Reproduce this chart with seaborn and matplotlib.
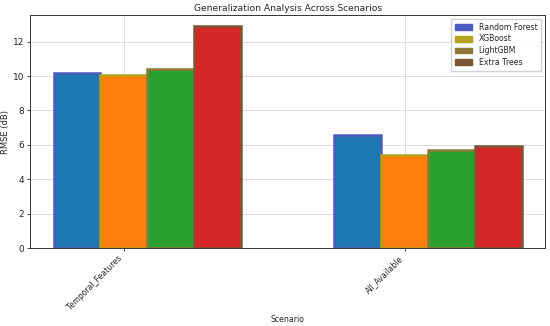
import seaborn as sns
import matplotlib.pyplot as plt
import matplotlib.patches as mpatches
import numpy as np
import pandas as pd

scenarios = ["Temporal_Features", "All_Available"]
models = ["Random Forest", "XGBoost", "LightGBM", "Extra Trees"]
rmse_rf = [10.2, 6.6]
rmse_xgb = [10.05, 5.42]
rmse_lgbm = [10.43, 5.68]
rmse_et = [12.92, 5.93]

bar_colors = ["#1f77b4", "#ff7f0e", "#2ca02c", "#d62728"]
legend_colors = ["#4a5bbd", "#b3a21c", "#8c7a34", "#7a5632"]

df = pd.DataFrame({
    "Scenario": scenarios * 4,
    "Model": np.repeat(models, len(scenarios)),
    "RMSE": rmse_rf + rmse_xgb + rmse_lgbm + rmse_et,
})

sns.set_style("ticks")
plt.rcParams['font.family'] = ['DejaVu Sans']

fig, ax = plt.subplots(figsize=(5.5, 3.26), dpi=100)
fig.subplots_adjust(left=0.055, right=0.991, top=0.954, bottom=0.239)

sns.barplot(data=df, x="Scenario", y="RMSE", hue="Model", hue_order=models,
            palette=bar_colors, width=4 / 6, gap=0, errorbar=None,
            saturation=1, ax=ax, legend=False)

for i, cont in enumerate(ax.containers):
    for bar in cont:
        bar.set_edgecolor(legend_colors[i])
        bar.set_linewidth(1.8)

# ticks sit half a bar to the left of the group centres
ax.set_xticks(np.arange(len(scenarios)) - 1 / 12)
ax.set_xticklabels(scenarios, rotation=45, ha="right", fontsize=5.6)
ax.autoscale(axis="x")
ax.set_ylim(0, 13.55)
ax.set_yticks(np.arange(0, 13, 2))
ax.tick_params(axis="y", labelsize=6.5)
ax.tick_params(length=2.5, width=0.6, pad=2)

ax.grid(True, color="#d8d8d8", linewidth=0.6)
ax.set_axisbelow(True)
for s in ax.spines.values():
    s.set_visible(True)
    s.set_linewidth(0.7)
    s.set_color("#333333")

ax.set_title("Generalization Analysis Across Scenarios", fontsize=6.6, pad=3)
ax.set_xlabel("Scenario", fontsize=5.6, labelpad=2)
ax.set_ylabel("RMSE (dB)", fontsize=6, labelpad=2)

handles = [mpatches.Patch(facecolor=c, edgecolor=c, label=m)
           for c, m in zip(legend_colors, models)]
ax.legend(handles=handles, loc="upper right", fontsize=5.6, frameon=True,
          handlelength=2.2, handleheight=0.8, borderpad=0.5, labelspacing=0.35,
          framealpha=0.9, edgecolor="#cccccc", fancybox=True)

fig.savefig("out.png", dpi=100)
